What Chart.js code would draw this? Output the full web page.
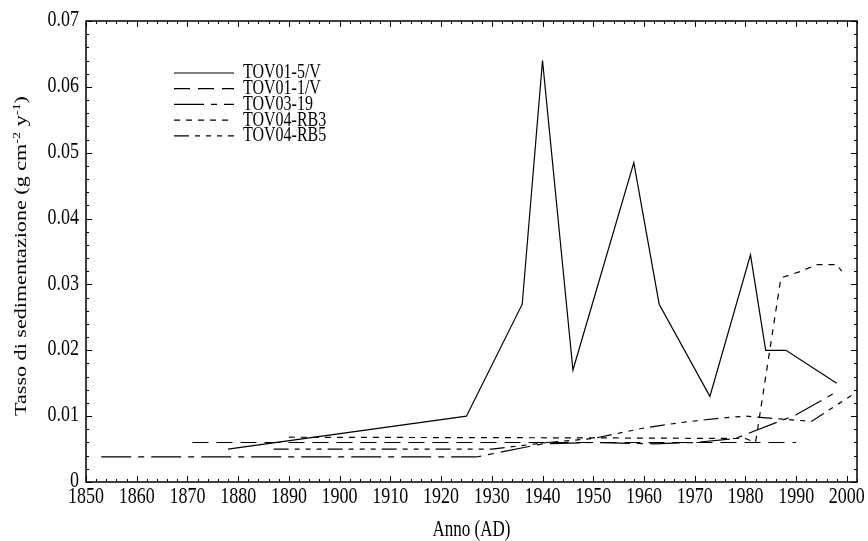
<!DOCTYPE html>
<html>
<head>
<meta charset="utf-8">
<script src="https://cdn.jsdelivr.net/npm/chart.js@4.4.1/dist/chart.umd.min.js"></script>
<style>
  html, body { margin: 0; padding: 0; background: #fff; }
  #wrap { width: 868px; height: 541px; }
</style>
</head>
<body>
<div id="wrap"><canvas id="sedChart"></canvas></div>
<script>
// tick labels
const yearTicks = [1850, 1860, 1870, 1880, 1890, 1900, 1910, 1920, 1930, 1940, 1950, 1960, 1970, 1980, 1990, 2000];
const rateTicks = [0, 0.01, 0.02, 0.03, 0.04, 0.05, 0.06, 0.07];
const rateTickLabels = ['0', '0.01', '0.02', '0.03', '0.04', '0.05', '0.06', '0.07'];

// series (anno, tasso di sedimentazione)
const seriesNames = ['TOV01-5/V', 'TOV01-1/V', 'TOV03-19', 'TOV04-RB3', 'TOV04-RB5'];

const tov015Years = [1878, 1925, 1936, 1940, 1946, 1958, 1963, 1973, 1981, 1984, 1988, 1998];
const tov015Rates = [0.005, 0.010, 0.027, 0.064, 0.017, 0.0485, 0.027, 0.013, 0.0345, 0.020, 0.020, 0.015];

const tov011Years = [1871, 1990];
const tov011Rates = [0.006, 0.006];

const tov0319Years = [1853, 1927, 1940, 1950, 1962, 1970, 1978, 1990, 1998];
const tov0319Rates = [0.0038, 0.0038, 0.0058, 0.006, 0.0058, 0.006, 0.0066, 0.0102, 0.0137];

const rb3Years = [1890, 1950, 1980, 1982, 1987, 1991, 1994, 1998, 1999];
const rb3Rates = [0.0068, 0.0067, 0.0066, 0.006, 0.031, 0.032, 0.033, 0.033, 0.032];

const rb5Years = [1887, 1930, 1941, 1950, 1960, 1967, 1975, 1980, 1993, 2002];
const rb5Rates = [0.005, 0.005, 0.006, 0.0066, 0.0082, 0.009, 0.0097, 0.010, 0.0092, 0.0137];

const dashes = [[], [16, 8], [30, 7, 6, 7], [6, 6], [15, 6, 5, 6, 5, 6, 5, 6]];

function toPoints(xs, ys) {
    return xs.map((x, i) => ({ x: x, y: ys[i] }));
}

const serif = "'Liberation Serif', 'Times New Roman', serif";
const textStretch = 1.3;   // the figure's lettering is tall and narrow

function tallText(ctx, text, x, y, size, align) {
    ctx.save();
    ctx.font = size + 'px ' + serif;
    ctx.textAlign = align;
    ctx.textBaseline = 'middle';
    ctx.translate(x, y);
    ctx.scale(1, textStretch);
    ctx.fillText(text, 0, 0);
    ctx.restore();
}

// frame, inward ticks, tick labels, legend and axis titles
const paperStyle = {
    id: 'paperStyle',
    afterDraw(chart) {
        const { ctx, chartArea: a, scales: { x, y } } = chart;
        ctx.save();
        ctx.strokeStyle = '#000';
        ctx.fillStyle = '#000';
        ctx.lineWidth = 1;
        ctx.setLineDash([]);
        for (let yr = 1850; yr <= 2002; yr += 2) {
            const px = Math.round(x.getPixelForValue(yr)) + 0.5;
            const len = yr % 10 === 0 ? 6 : 3;
            ctx.beginPath();
            ctx.moveTo(px, a.bottom); ctx.lineTo(px, a.bottom - len);
            ctx.moveTo(px, a.top); ctx.lineTo(px, a.top + len);
            ctx.stroke();
        }
        for (let i = 0; i <= 35; i++) {
            const py = Math.round(y.getPixelForValue(i * 0.002)) + 0.5;
            const len = i % 5 === 0 ? 6 : 3;
            ctx.beginPath();
            ctx.moveTo(a.left, py); ctx.lineTo(a.left + len, py);
            ctx.moveTo(a.right, py); ctx.lineTo(a.right - len, py);
            ctx.stroke();
        }
        ctx.lineWidth = 1.5;
        ctx.strokeRect(a.left, a.top, a.right - a.left, a.bottom - a.top);

        // tick labels
        yearTicks.forEach(v => tallText(ctx, String(v), x.getPixelForValue(v), a.bottom + 15, 18, 'center'));
        rateTicks.forEach((v, i) => tallText(ctx, rateTickLabels[i], a.left - 7, y.getPixelForValue(v) - 1, 18, 'right'));

        // legend
        ctx.lineWidth = 1.2;
        chart.data.datasets.forEach((ds, i) => {
            const ly = 73 + i * 15.7;
            ctx.setLineDash(ds.borderDash || []);
            ctx.beginPath();
            ctx.moveTo(174, ly); ctx.lineTo(234, ly);
            ctx.stroke();
            tallText(ctx, ds.label, 243, ly, 16, 'left');
        });
        ctx.setLineDash([]);

        // x title
        tallText(ctx, 'Anno (AD)', (a.left + a.right) / 2, 530, 17, 'center');

        // y title with superscripts
        const parts = [
            ['Tasso di sedimentazione (g cm', false], ['-2', true],
            [' y', false], ['-1', true], [')', false]
        ];
        const big = '17px ' + serif, small = '11px ' + serif;
        let total = 0;
        parts.forEach(p => { ctx.font = p[1] ? small : big; total += ctx.measureText(p[0]).width; });
        ctx.translate(22, 256);
        ctx.scale(1, textStretch);
        ctx.rotate(-Math.PI / 2);
        ctx.textAlign = 'left';
        ctx.textBaseline = 'middle';
        let cx = -total / 2;
        parts.forEach(p => {
            ctx.font = p[1] ? small : big;
            ctx.fillText(p[0], cx, p[1] ? -5 : 0);
            cx += ctx.measureText(p[0]).width;
        });
        ctx.restore();
    }
};

const allYears = [tov015Years, tov011Years, tov0319Years, rb3Years, rb5Years];
const allRates = [tov015Rates, tov011Rates, tov0319Rates, rb3Rates, rb5Rates];

new Chart(document.getElementById('sedChart'), {
    type: 'line',
    data: {
        datasets: seriesNames.map((name, i) => ({
            label: name,
            data: toPoints(allYears[i], allRates[i]),
            borderColor: '#000',
            borderWidth: 1.2,
            borderDash: dashes[i],
            pointRadius: 0,
            fill: false,
            tension: 0
        }))
    },
    options: {
        responsive: true,
        maintainAspectRatio: false,
        animation: false,
        layout: { padding: { top: 21, right: 11, left: 0, bottom: 0 } },
        plugins: { legend: { display: false }, tooltip: { enabled: false } },
        scales: {
            x: {
                type: 'linear',
                min: 1850,
                max: 2002,
                afterBuildTicks: s => { s.ticks = yearTicks.map(v => ({ value: v })); },
                afterFit: s => { s.height = 59; },
                grid: { display: false },
                border: { display: false },
                ticks: { display: false }
            },
            y: {
                min: 0,
                max: 0.07,
                afterBuildTicks: s => { s.ticks = rateTicks.map(v => ({ value: v })); },
                afterFit: s => { s.width = 86; },
                grid: { display: false },
                border: { display: false },
                ticks: { display: false }
            }
        }
    },
    plugins: [paperStyle]
});
</script>
</body>
</html>
